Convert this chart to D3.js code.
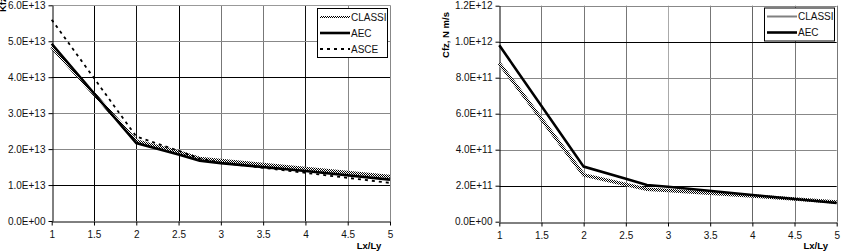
<!DOCTYPE html>
<html>
<head>
<meta charset="utf-8">
<script src="https://cdn.jsdelivr.net/npm/d3@7"></script>
<style>
  html, body { margin: 0; padding: 0; background: #fff; }
  svg { display: block; font-family: "Liberation Sans", Arial, sans-serif; }
</style>
</head>
<body>
<div id="chart-area"></div>
<script>
// valores
const lxly = [1, 2, 2.5, 2.75, 3, 4, 5];
const xTicks = [1, 1.5, 2, 2.5, 3, 3.5, 4, 4.5, 5];

const kfzClassi = [4.84e13, 2.23e13, 1.92e13, 1.74e13, 1.68e13, 1.46e13, 1.24e13];
const kfzAec    = [4.93e13, 2.17e13, 1.85e13, 1.68e13, 1.61e13, 1.39e13, 1.15e13];
const kfzAsce   = [5.60e13, 2.35e13, 1.95e13, 1.74e13, 1.62e13, 1.34e13, 1.06e13];
const kfzTicks  = [0, 1e13, 2e13, 3e13, 4e13, 5e13, 6e13];

const cfzClassi = [0.88e12, 0.26e12, 0.207e12, 0.180e12, 0.174e12, 0.143e12, 0.110e12];
const cfzAec    = [0.98e12, 0.306e12, 0.238e12, 0.204e12, 0.194e12, 0.148e12, 0.104e12];
const cfzTicks  = [0, 0.2e12, 0.4e12, 0.6e12, 0.8e12, 1.0e12, 1.2e12];

const svg = d3.select('#chart-area').append('svg')
    .attr('width', 846)
    .attr('height', 252);

// padrão quadriculado para a linha CLASSI
const pat = svg.append('defs').append('pattern')
    .attr('id', 'checker')
    .attr('patternUnits', 'userSpaceOnUse')
    .attr('width', 2)
    .attr('height', 2);
pat.append('rect').attr('width', 2).attr('height', 2).attr('fill', '#fff');
pat.append('rect').attr('width', 1).attr('height', 1).attr('fill', '#000');
pat.append('rect').attr('x', 1).attr('y', 1).attr('width', 1).attr('height', 1).attr('fill', '#000');

//formato 6.0E+13
function sci(d) {
    const s = d.toExponential(1).toUpperCase();
    return s.replace(/E([+-])(\d)$/, 'E$10$2');
}

const styles = {
    CLASSI: { stroke: 'url(#checker)', width: 3.5, dash: null },
    AEC: { stroke: '#000', width: 2.6, dash: null },
    ASCE: { stroke: '#000', width: 1.8, dash: '3,4' }
};

function drawChart(opt) {
    const x = d3.scaleLinear().domain([1, 5]).range([opt.x0, opt.x1]);
    const y = d3.scaleLinear().domain([0, opt.yMax]).range([opt.y0, opt.y1]);
    const g = svg.append('g');

    // grade
    g.append('g').selectAll('line').data(xTicks.slice(1)).enter().append('line')
        .attr('x1', d => Math.round(x(d)) + 0.5).attr('x2', d => Math.round(x(d)) + 0.5)
        .attr('y1', opt.y1).attr('y2', opt.y0)
        .attr('stroke', (d, i) => opt.vShade[i]).attr('stroke-width', 1);
    g.append('g').selectAll('line').data(opt.yTicks.slice(1)).enter().append('line')
        .attr('x1', opt.x0).attr('x2', opt.x1)
        .attr('y1', d => Math.round(y(d)) + 0.5).attr('y2', d => Math.round(y(d)) + 0.5)
        .attr('stroke', (d, i) => opt.hShade[i]).attr('stroke-width', 1);

    // eixos
    const ax = g.append('g')
        .attr('transform', `translate(0, ${Math.round(opt.y0) + 0.5})`)
        .call(d3.axisBottom(x).tickValues(xTicks).tickFormat(d3.format('')).tickSize(4).tickPadding(5).tickSizeOuter(0));
    const ay = g.append('g')
        .attr('transform', `translate(${Math.round(opt.x0) + 0.5}, 0)`)
        .call(d3.axisLeft(y).tickValues(opt.yTicks).tickFormat(sci).tickSize(4).tickPadding(3).tickSizeOuter(0));
    [ax, ay].forEach(a => {
        a.selectAll('text').attr('font-size', '10px').attr('fill', '#111')
            .attr('font-family', '"Liberation Sans", Arial, sans-serif');
        a.select('.domain').attr('stroke', '#000');
    });

    // títulos
    g.append('text')
        .attr('x', opt.x1 - 21).attr('y', 249)
        .attr('text-anchor', 'middle')
        .attr('font-size', '9.5px').attr('font-weight', 'bold')
        .text('Lx/Ly');
    g.append('text')
        .attr('transform', `translate(${opt.labelX}, ${opt.labelY}) rotate(-90)`)
        .attr('text-anchor', opt.labelAnchor)
        .attr('font-size', '9.5px').attr('font-weight', 'bold')
        .text(opt.label);

    // linhas
    const line = d3.line().x((d, i) => x(lxly[i])).y(d => y(d));
    opt.series.forEach(s => {
        const st = styles[s.name];
        g.append('path')
            .attr('d', line(s.values))
            .attr('fill', 'none')
            .attr('stroke', st.stroke)
            .attr('stroke-width', st.width)
            .attr('stroke-dasharray', st.dash)
            .attr('stroke-linejoin', 'miter');
    });

    // legenda
    const lg = g.append('g').attr('transform', `translate(${opt.legX}, ${opt.legY})`);
    lg.append('rect')
        .attr('x', 0.5).attr('y', 0.5)
        .attr('width', opt.legW).attr('height', opt.series.length * 16 + 1)
        .attr('fill', '#fff').attr('stroke', '#000');
    opt.series.forEach((s, i) => {
        const st = styles[s.name];
        const yy = 9 + i * 16;
        lg.append('line')
            .attr('x1', 3).attr('x2', 33).attr('y1', yy).attr('y2', yy)
            .attr('stroke', st.stroke).attr('stroke-width', s.name === 'CLASSI' ? 2 : st.width)
            .attr('stroke-dasharray', st.dash);
        lg.append('text')
            .attr('x', 34).attr('y', yy + 3.5)
            .attr('font-size', '10px').attr('fill', '#111')
            .text(s.name);
    });
}

drawChart({
    x0: 51.7, x1: 390, y0: 221, y1: 5.3, yMax: 6e13, yTicks: kfzTicks,
    vShade: ['#000', '#111', '#000', '#777', '#777', '#111', '#888', '#888'],
    hShade: ['#000', '#888', '#888', '#000', '#888', '#999'],
    label: 'Kfz, N m/rad', labelX: 6, labelY: 12, labelAnchor: 'start',
    series: [
        { name: 'CLASSI', values: kfzClassi },
        { name: 'AEC', values: kfzAec },
        { name: 'ASCE', values: kfzAsce }
    ],
    legX: 317, legY: 8, legW: 70
});

drawChart({
    x0: 499.3, x1: 836.7, y0: 221.7, y1: 5.7, yMax: 1.2e12, yTicks: cfzTicks,
    vShade: ['#777', '#777', '#777', '#aaa', '#777', '#666', '#777', '#777'],
    hShade: ['#000', '#888', '#888', '#888', '#000', '#888'],
    label: 'Cfz, N m/s', labelX: 449, labelY: 35, labelAnchor: 'middle',
    series: [
        { name: 'CLASSI', values: cfzClassi },
        { name: 'AEC', values: cfzAec }
    ],
    legX: 764, legY: 7.5, legW: 70
});
</script>
</body>
</html>
